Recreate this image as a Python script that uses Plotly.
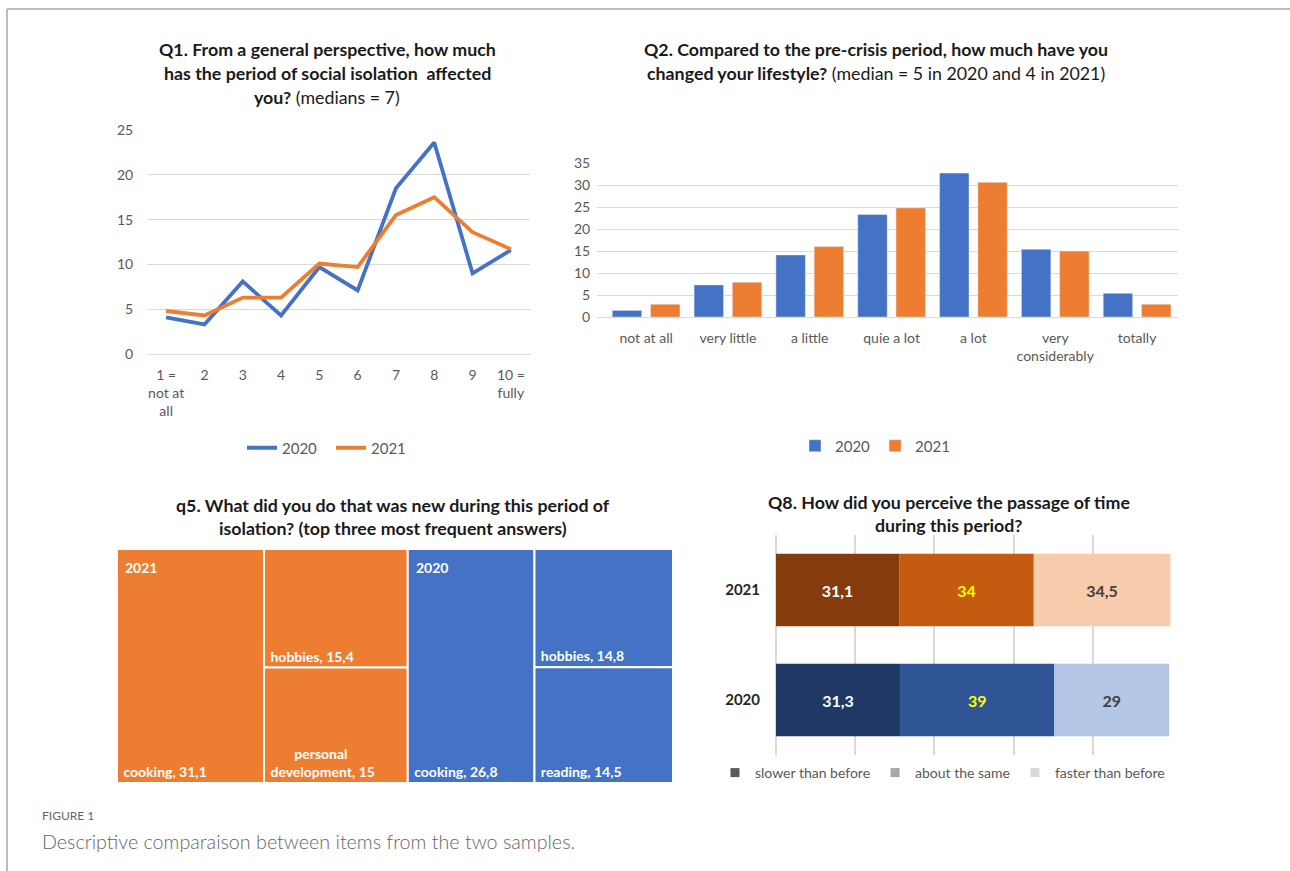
import plotly.graph_objects as go

W, H = 1290, 871


def px(x):
    return x / W


def py(y):
    return 1 - y / H


def fmt(v):
    return f"{v:g}".replace(".", ",")


# ---------------- data ----------------
q1_categories = ["1 =<br>not at<br>all", "2", "3", "4", "5", "6", "7", "8", "9", "10 =<br>fully"]
q1_2020 = [4.1, 3.3, 8.1, 4.3, 9.7, 7.1, 18.5, 23.6, 9.0, 11.6]
q1_2021 = [4.8, 4.3, 6.3, 6.3, 10.1, 9.7, 15.5, 17.5, 13.6, 11.7]

q2_categories = ["not at all", "very little", "a little", "quie a lot", "a lot",
                 "very<br>considerably", "totally"]
q2_2020 = [1.5, 7.3, 14.1, 23.3, 32.7, 15.4, 5.4]
q2_2021 = [2.9, 7.9, 16.0, 24.8, 30.6, 15.0, 2.9]

q5_years = ["2021", "2020"]
q5_labels_2021 = ["cooking", "hobbies", "personal development"]
q5_values_2021 = [31.1, 15.4, 15.0]
q5_labels_2020 = ["cooking", "hobbies", "reading"]
q5_values_2020 = [26.8, 14.8, 14.5]

q8_years = ["2020", "2021"]
q8_names = ["slower than before", "about the same", "faster than before"]
q8_slower = [31.3, 31.1]
q8_same = [39, 34]
q8_faster = [29, 34.5]

# ---------------- styles ----------------
BLUE = "#4472C4"
ORANGE = "#ED7D31"
GRID = "#D9D9D9"
TICK = "#595959"
TITLE = "#1a1a1a"
FONT = "Lato"
NB = "\u00a0"

fig = go.Figure()

# ---------- Q1 line chart ----------
fig.add_trace(go.Scatter(x=q1_categories, y=q1_2020, mode="lines", name="2020",
                         line=dict(color=BLUE, width=3.8), xaxis="x", yaxis="y",
                         legend="legend"))
fig.add_trace(go.Scatter(x=q1_categories, y=q1_2021, mode="lines", name="2021",
                         line=dict(color=ORANGE, width=3.8), xaxis="x", yaxis="y",
                         legend="legend"))

# ---------- Q2 grouped bars ----------
fig.add_trace(go.Bar(x=q2_categories, y=q2_2020, name="2020", marker_color=BLUE,
                     xaxis="x2", yaxis="y2", legend="legend2"))
fig.add_trace(go.Bar(x=q2_categories, y=q2_2021, name="2021", marker_color=ORANGE,
                     xaxis="x2", yaxis="y2", legend="legend2"))

# ---------- Q5 treemap ----------
ids = ["root"]
labels = [""]
parents = [""]
values = [0]
colors = ["white"]
texts = [""]
for year, labs, vals, col in [("2021", q5_labels_2021, q5_values_2021, ORANGE),
                              ("2020", q5_labels_2020, q5_values_2020, BLUE)]:
    ids.append(year)
    labels.append(year)
    parents.append("root")
    values.append(0)
    colors.append(col)
    texts.append("")
    for lab, v in zip(labs, vals):
        ids.append(f"{year}/{lab}")
        labels.append(lab)
        parents.append(year)
        values.append(v)
        colors.append(col)
        if lab == "personal development":
            texts.append(NB * 8 + "personal<br>" + NB + "development, " + fmt(v))
        else:
            texts.append(f"{NB}{lab}, {fmt(v)}")

TM_X = [117, 673]
TM_Y = [549, 783]
fig.add_trace(go.Treemap(
    ids=ids, labels=labels, parents=parents, values=values,
    branchvalues="remainder", sort=False,
    text=texts, textinfo="text", textposition="bottom left",
    textfont=dict(family=FONT, size=14, color="white", weight="bold"),
    marker=dict(colors=colors, line=dict(color="white", width=2),
                pad=dict(t=0, l=0, r=0, b=0)),
    tiling=dict(packing="binary", pad=0),
    pathbar=dict(visible=False),
    hoverinfo="skip",
    domain=dict(x=[px(TM_X[0]), px(TM_X[1])], y=[py(TM_Y[1]), py(TM_Y[0])]),
))

# ---------- Q8 stacked horizontal bars ----------
q8_parts = [q8_slower, q8_same, q8_faster]
q8_colors = [["#1F3864", "#843C0C"], ["#2F5597", "#C55A11"], ["#B4C7E7", "#F8CBAD"]]
q8_textcolors = [["white", "white"], ["#FFFF00", "#FFFF00"], ["#404040", "#404040"]]
base = [0.0, 0.0]
for name, part, cols, tcols in zip(q8_names, q8_parts, q8_colors, q8_textcolors):
    fig.add_trace(go.Bar(
        x=part, y=q8_years, orientation="h", base=list(base), name=name,
        marker=dict(color=cols, line=dict(width=0)),
        text=[fmt(v) for v in part], textposition="inside",
        insidetextanchor="middle", constraintext="none", textangle=0,
        textfont=dict(family=FONT, size=16, color=tcols, weight="bold"),
        width=0.66, offsetgroup="q8", showlegend=False,
        xaxis="x3", yaxis="y3", hoverinfo="skip"))
    base = [b + v for b, v in zip(base, part)]

legend_greys = ["#595959", "#A6A6A6", "#D9D9D9"]
for name, g in zip(q8_names, legend_greys):
    fig.add_trace(go.Scatter(x=[None], y=[None], mode="markers", name=name,
                             marker=dict(symbol="square", size=9, color=g),
                             xaxis="x3", yaxis="y3", legend="legend3"))

tickfont = dict(family=FONT, size=14, color=TICK)

fig.update_layout(
    width=W, height=H, margin=dict(l=0, r=0, t=0, b=0, autoexpand=False),
    paper_bgcolor="white", plot_bgcolor="white",
    font=dict(family=FONT, color=TITLE),
    barmode="group", bargap=0.065, bargroupgap=0.23,
    xaxis=dict(domain=[px(147), px(530)], anchor="y", type="category", automargin=False,
               range=[-0.5, 9.5], showgrid=False, showline=False, zeroline=False,
               ticks="outside", ticklen=8, tickcolor="rgba(0,0,0,0)",
               tickfont=tickfont),
    yaxis=dict(domain=[py(354), py(130)], anchor="x", range=[0, 25], dtick=5,
               automargin=False,
               gridcolor=GRID, gridwidth=1, zeroline=True, zerolinecolor=GRID,
               zerolinewidth=1, showline=False,
               ticks="outside", ticklen=10, tickcolor="rgba(0,0,0,0)",
               tickfont=tickfont),
    xaxis2=dict(domain=[px(597), px(1178)], anchor="y2", type="category", automargin=False,
                range=[-0.6, 6.5], showgrid=False, showline=False, zeroline=False,
                ticks="outside", ticklen=8, tickcolor="rgba(0,0,0,0)",
                tickfont=tickfont),
    yaxis2=dict(domain=[py(317), py(163)], anchor="x2", range=[0, 35], dtick=5,
                automargin=False,
                gridcolor=GRID, gridwidth=1, zeroline=True, zerolinecolor=GRID,
                zerolinewidth=1, showline=False,
                ticks="outside", ticklen=3, tickcolor="rgba(0,0,0,0)",
                tickfont=tickfont),
    xaxis3=dict(domain=[px(776), px(1172)], anchor="y3", range=[0, 100], dtick=20,
                automargin=False,
                gridcolor=GRID, gridwidth=1.5, zeroline=True, zerolinecolor=GRID,
                zerolinewidth=1.5, showline=False, showticklabels=False),
    yaxis3=dict(domain=[py(755), py(535)], anchor="x3", type="category", automargin=False,
                categoryorder="array", categoryarray=q8_years,
                range=[-0.5, 1.5], showgrid=False, showline=False, zeroline=False,
                ticks="outside", ticklen=12, tickcolor="rgba(0,0,0,0)",
                tickfont=dict(family=FONT, size=15, color="#262626", weight="bold")),
    legend=dict(orientation="h", x=px(242), y=py(448), xanchor="left", yanchor="middle",
                xref="container", yref="container",
                font=dict(family=FONT, size=15, color=TICK), entrywidth=44,
                bgcolor="rgba(0,0,0,0)"),
    legend2=dict(orientation="h", x=px(795), y=py(446), xanchor="left", yanchor="middle",
                 xref="container", yref="container",
                 font=dict(family=FONT, size=15, color=TICK),
                 bgcolor="rgba(0,0,0,0)"),
    legend3=dict(orientation="h", x=px(715), y=py(773), xanchor="left", yanchor="middle",
                 xref="container", yref="container",
                 font=dict(family=FONT, size=14, color=TICK),
                 bgcolor="rgba(0,0,0,0)", itemsizing="trace"),
)

# ---------- titles ----------
title_lines = [
    (327, 49, "<b>Q1. From a general perspective, how much</b>"),
    (327, 73, "<b>has the period of social isolation  affected</b>"),
    (327, 97, "<b>you?</b> (medians = 7)"),
    (876, 49, "<b>Q2. Compared to the pre-crisis period, how much have you</b>"),
    (876, 73, "<b>changed your lifestyle?</b> (median = 5 in 2020 and 4 in 2021)"),
    (393, 505, "<b>q5. What did you do that was new during this period of</b>"),
    (393, 528, "<b>isolation? (top three most frequent answers)</b>"),
    (949, 502, "<b>Q8. How did you perceive the passage of time</b>"),
    (949, 525, "<b>during this period?</b>"),
]
for x, y, t in title_lines:
    fig.add_annotation(x=px(x), y=py(y), xref="paper", yref="paper", text=t,
                       showarrow=False, xanchor="center", yanchor="middle",
                       font=dict(family=FONT, size=17.8, color=TITLE))

# treemap group labels (top-left of each year block)
tot21 = sum(q5_values_2021)
tot20 = sum(q5_values_2020)
tm_w = TM_X[1] - TM_X[0]
for year, left_frac in [("2021", 0.0), ("2020", tot21 / (tot21 + tot20))]:
    fig.add_annotation(x=px(TM_X[0] + left_frac * tm_w + 6), y=py(TM_Y[0] + 18),
                       xref="paper", yref="paper", text=f"<b>{year}</b>",
                       showarrow=False, xanchor="left", yanchor="middle",
                       font=dict(family=FONT, size=14, color="white"))

# caption
fig.add_annotation(x=px(40), y=py(815), xref="paper", yref="paper", text="FIGURE 1",
                   showarrow=False, xanchor="left", yanchor="middle",
                   font=dict(family=FONT, size=12, color="#666666"))
fig.add_annotation(x=px(40), y=py(841), xref="paper", yref="paper",
                   text="Descriptive comparaison between items from the two samples.",
                   showarrow=False, xanchor="left", yanchor="middle",
                   font=dict(family=FONT, size=19.7, color="#666666", weight=300))

# frame lines
fig.add_shape(type="line", xref="paper", yref="paper", x0=px(7), x1=1, y0=py(9), y1=py(9),
              line=dict(color="#BDBDBD", width=2))
fig.add_shape(type="line", xref="paper", yref="paper", x0=px(7), x1=px(7), y0=py(9), y1=0,
              line=dict(color="#BDBDBD", width=2))

fig.write_html("out.html")
